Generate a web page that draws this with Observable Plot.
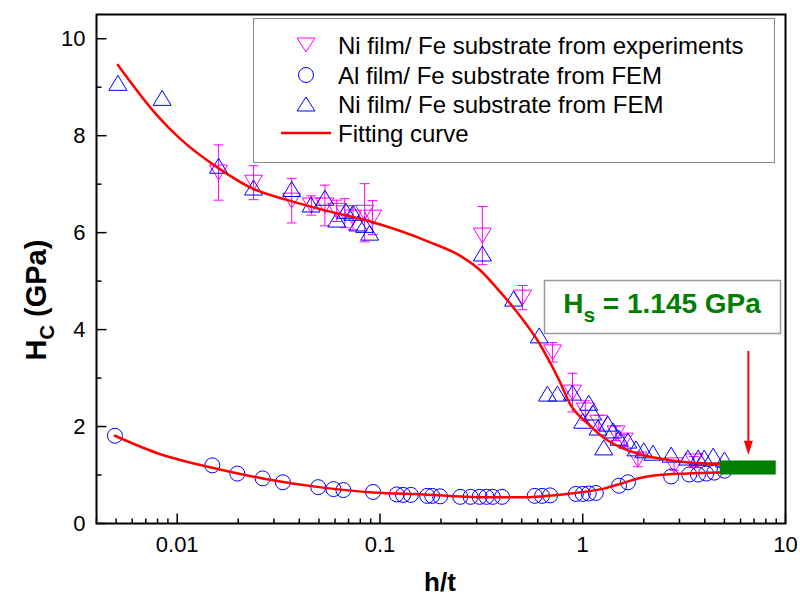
<!DOCTYPE html>
<html><head><meta charset="utf-8">
<script src="https://cdn.jsdelivr.net/npm/d3@7"></script>
<script src="https://cdn.jsdelivr.net/npm/@observablehq/plot@0.6"></script>
<style>body{margin:0;background:#fff;} #chart{width:800px;height:603px;}</style>
</head><body><div id="chart"></div>
<script>
// ---- data ----
const expX   = [0.016, 0.0238, 0.0367, 0.0459, 0.0535, 0.0612, 0.067, 0.0736, 0.084, 0.092, 0.32, 0.505, 0.71, 0.89, 1.03, 1.2, 1.46, 1.6, 1.87, 2.82, 3.54];
const expY   = [7.24, 7.03, 6.66, 6.56, 6.56, 6.45, 6.40, 6.31, 6.41, 6.31, 5.94, 4.66, 3.53, 2.70, 2.33, 2.08, 1.86, 1.71, 1.32, 1.20, 1.28];
const expErr = [0.57, 0.35, 0.46, 0.20, 0.42, 0.22, 0.30, 0.25, 0.60, 0.35, 0.60, 0.25, 0.20, 0.40, 0.20, 0.15, 0.15, 0.12, 0.15, 0.10, 0.10];

const alX = [0.00493, 0.0149, 0.0198, 0.0264, 0.0332, 0.0496, 0.059, 0.066, 0.0925, 0.121, 0.13, 0.142, 0.171, 0.181, 0.198, 0.249, 0.28, 0.31, 0.335, 0.36, 0.40, 0.58, 0.63, 0.69, 0.925, 1.0, 1.07, 1.16, 1.51, 1.67, 2.73, 3.35, 3.7, 4.06, 4.45, 5.0];
const alY = [1.81, 1.20, 1.03, 0.93, 0.85, 0.75, 0.71, 0.69, 0.65, 0.60, 0.59, 0.59, 0.57, 0.57, 0.56, 0.55, 0.55, 0.55, 0.55, 0.55, 0.55, 0.57, 0.57, 0.58, 0.61, 0.61, 0.62, 0.63, 0.78, 0.85, 0.97, 1.01, 1.01, 1.03, 1.05, 1.09];

const niX = [0.0051, 0.00843, 0.016, 0.0238, 0.0367, 0.0457, 0.0535, 0.0612, 0.068, 0.0736, 0.078, 0.084, 0.089, 0.32, 0.456, 0.61, 0.67, 0.75, 0.89, 1.0, 1.07, 1.12, 1.19, 1.27, 1.33, 1.41, 1.51, 1.67, 1.83, 2.0, 2.22, 2.73, 3.3, 3.71, 3.97, 4.4, 5.0];
const niY = [9.09, 8.78, 7.38, 6.93, 6.90, 6.58, 6.72, 6.27, 6.45, 6.41, 6.19, 6.16, 6.00, 5.57, 4.64, 3.88, 2.68, 2.68, 2.70, 2.12, 2.49, 2.29, 1.98, 1.57, 2.06, 1.92, 1.77, 1.71, 1.55, 1.51, 1.46, 1.42, 1.36, 1.36, 1.36, 1.40, 1.32];

const niFitX = [0.0051, 0.008, 0.0102, 0.0161, 0.0235, 0.0358, 0.0523, 0.0863, 0.177, 0.249, 0.313, 0.38, 0.456, 0.51, 0.6, 0.67, 0.76, 0.87, 1.06, 1.27, 1.54, 1.87, 2.25, 3.3, 4.77];
const niFitY = [9.46, 8.41, 7.96, 7.32, 6.91, 6.66, 6.47, 6.25, 5.80, 5.52, 5.22, 4.84, 4.45, 4.19, 3.77, 3.42, 2.98, 2.45, 2.06, 1.77, 1.57, 1.44, 1.36, 1.26, 1.23];

const alFitX = [0.00493, 0.00787, 0.0149, 0.0264, 0.0523, 0.0925, 0.163, 0.35, 0.49, 0.87, 1.27, 1.54, 1.87, 2.25, 3.3, 4.77];
const alFitY = [1.81, 1.46, 1.15, 0.93, 0.74, 0.64, 0.60, 0.54, 0.54, 0.62, 0.72, 0.82, 0.93, 0.99, 1.03, 1.05];

const hsValue = 1.145;
const hsBarX = [4.77, 9.0];
const hsBarY = [1.0, 1.29];
const arrowX = [6.56];
const arrowY = [3.55, 1.42];

const xTicks = [0.01, 0.1, 1, 10];
const xMinor = [0.004, 0.005, 0.006, 0.007, 0.008, 0.009, 0.02, 0.03, 0.04, 0.05, 0.06, 0.07, 0.08, 0.09,
                0.2, 0.3, 0.4, 0.5, 0.6, 0.7, 0.8, 0.9, 2, 3, 4, 5, 6, 7, 8, 9];
const yTicks = [0, 2, 4, 6, 8, 10];
const yMinor = [1, 3, 5, 7, 9];

const legendLabels = ["Ni film/ Fe substrate from experiments", "Al film/ Fe substrate from FEM", "Ni film/ Fe substrate from FEM", "Fitting curve"];

// ---- tables ----
const expData = expX.map((x, i) => ({x, y: expY[i], e: expErr[i]}));
const alData = alX.map((x, i) => ({x, y: alY[i]}));
const niData = niX.map((x, i) => ({x, y: niY[i]}));
const niFit = niFitX.map((x, i) => ({x, y: niFitY[i]}));
const alFit = alFitX.map((x, i) => ({x, y: alFitY[i]}));

const MAG = "#ff00ff", BLUE = "#0000ff", RED = "#ff0000", GREEN = "#007f00";

// ---- custom symbols ----
const triUp = {draw(c) { c.moveTo(0, -7.5); c.lineTo(9, 7.5); c.lineTo(-9, 7.5); c.closePath(); }};
const triDown = {draw(c) { c.moveTo(0, 7.5); c.lineTo(9, -7.5); c.lineTo(-9, -7.5); c.closePath(); }};
const cap = {draw(c) { c.moveTo(-5, 0); c.lineTo(5, 0); }};
const vTick = len => ({draw(c) { c.moveTo(0, 0); c.lineTo(0, -len); }});
const hTick = len => ({draw(c) { c.moveTo(0, 0); c.lineTo(len, 0); }});
const head = {draw(c) { c.moveTo(0, 0); c.lineTo(-4.5, -14); c.lineTo(4.5, -14); c.closePath(); }};

const FONT = "Arial, 'Liberation Sans', sans-serif";

const plot = Plot.plot({
  width: 800, height: 603,
  marginLeft: 96, marginRight: 15, marginTop: 14, marginBottom: 80,
  style: {fontFamily: FONT, background: "#fff", color: "#000"},
  x: {type: "log", domain: [0.004, 10], axis: null},
  y: {domain: [0, 10.5], axis: null},
  marks: [
    Plot.axisX({ticks: xTicks, tickSize: 0, tickPadding: 13, fontSize: 22, tickFormat: d => String(d), label: null}),
    Plot.axisY({ticks: yTicks, tickSize: 0, tickPadding: 11, fontSize: 22, tickFormat: d => String(d), label: null}),
    // error bars
    Plot.ruleX(expData, {x: "x", y1: d => d.y - d.e, y2: d => d.y + d.e, stroke: MAG, strokeWidth: 1}),
    Plot.dot(expData, {x: "x", y: d => d.y + d.e, symbol: cap, fill: "none", stroke: MAG, strokeWidth: 1}),
    Plot.dot(expData, {x: "x", y: d => d.y - d.e, symbol: cap, fill: "none", stroke: MAG, strokeWidth: 1}),
    Plot.dot(expData, {x: "x", y: "y", symbol: triDown, fill: "none", stroke: MAG, strokeWidth: 1}),
    Plot.dot(alData, {x: "x", y: "y", r: 7.5, symbol: "circle", fill: "none", stroke: BLUE, strokeWidth: 1}),
    Plot.dot(niData, {x: "x", y: "y", symbol: triUp, fill: "none", stroke: BLUE, strokeWidth: 1}),
    Plot.line(niFit, {x: "x", y: "y", stroke: RED, strokeWidth: 2.5, curve: "monotone-x"}),
    Plot.line(alFit, {x: "x", y: "y", stroke: RED, strokeWidth: 2.5, curve: "monotone-x"}),
    Plot.rect([0], {x1: () => hsBarX[0], x2: () => hsBarX[1], y1: () => hsBarY[0], y2: () => hsBarY[1], fill: GREEN}),
    Plot.ruleX(arrowX, {x: d => d, y1: arrowY[0], y2: arrowY[1] + 0.25, stroke: RED, strokeWidth: 2}),
    Plot.dot(arrowX, {x: d => d, y: arrowY[1], symbol: head, fill: RED, stroke: "none"}),
    // inward ticks
    Plot.dot(xTicks, {x: d => d, frameAnchor: "bottom", symbol: vTick(10), fill: "none", stroke: "#000", strokeWidth: 1.5}),
    Plot.dot(xMinor, {x: d => d, frameAnchor: "bottom", symbol: vTick(5), fill: "none", stroke: "#000", strokeWidth: 1.5}),
    Plot.dot(yTicks, {y: d => d, frameAnchor: "left", symbol: hTick(10), fill: "none", stroke: "#000", strokeWidth: 1.5}),
    Plot.dot(yMinor, {y: d => d, frameAnchor: "left", symbol: hTick(5), fill: "none", stroke: "#000", strokeWidth: 1.5}),
    Plot.frame({stroke: "#000", strokeWidth: 2})
  ]
});
document.getElementById("chart").appendChild(plot);

// ---- annotations: axis titles, legend, Hs box ----
const svg = d3.select(plot);
const yl = svg.append("text")
  .attr("transform", "translate(46,300) rotate(-90)")
  .attr("text-anchor", "middle")
  .style("font", `bold 29px ${FONT}`).attr("fill", "#000");
yl.append("tspan").text("H");
yl.append("tspan").attr("dy", 8).style("font-size", "20px").text("C");
yl.append("tspan").attr("dy", -8).text(" (GPa)");

svg.append("text").attr("x", 440).attr("y", 591).attr("text-anchor", "middle")
  .style("font", `bold 26px ${FONT}`).attr("fill", "#000").text("h/t");

const lg = svg.append("g");
lg.append("rect").attr("x", 253.5).attr("y", 18.5).attr("width", 521).attr("height", 144)
  .attr("fill", "#fff").attr("stroke", "#888").attr("stroke-width", 1);
const rowsY = [45, 75, 104, 133];
const sx = 306;
lg.append("path").attr("d", `M${sx},${rowsY[0]+7} L${sx+9},${rowsY[0]-7} L${sx-9},${rowsY[0]-7} Z`).attr("fill", "none").attr("stroke", MAG);
lg.append("circle").attr("cx", sx).attr("cy", rowsY[1]).attr("r", 7.5).attr("fill", "none").attr("stroke", BLUE);
lg.append("path").attr("d", `M${sx},${rowsY[2]-7} L${sx+9},${rowsY[2]+7} L${sx-9},${rowsY[2]+7} Z`).attr("fill", "none").attr("stroke", BLUE);
lg.append("line").attr("x1", 281).attr("x2", 331).attr("y1", rowsY[3]).attr("y2", rowsY[3]).attr("stroke", RED).attr("stroke-width", 2.5);
legendLabels.forEach((t, i) => {
  lg.append("text").attr("x", 338).attr("y", rowsY[i]).attr("dy", "0.36em").attr("text-anchor", "start")
    .style("font", `24px ${FONT}`).attr("fill", "#000").text(t);
});

const hb = svg.append("g");
hb.append("rect").attr("x", 544.5).attr("y", 280.5).attr("width", 236).attr("height", 53)
  .attr("fill", "#fff").attr("stroke", "#999").attr("stroke-width", 1.5);
const ht = hb.append("text").attr("x", 662).attr("y", 313).attr("text-anchor", "middle")
  .style("font", `bold 28px ${FONT}`).attr("fill", GREEN);
ht.append("tspan").text("H");
ht.append("tspan").attr("dy", 9).style("font-size", "21px").text("s");
ht.append("tspan").attr("dy", -9).text(` = ${hsValue} GPa`);
</script></body></html>
